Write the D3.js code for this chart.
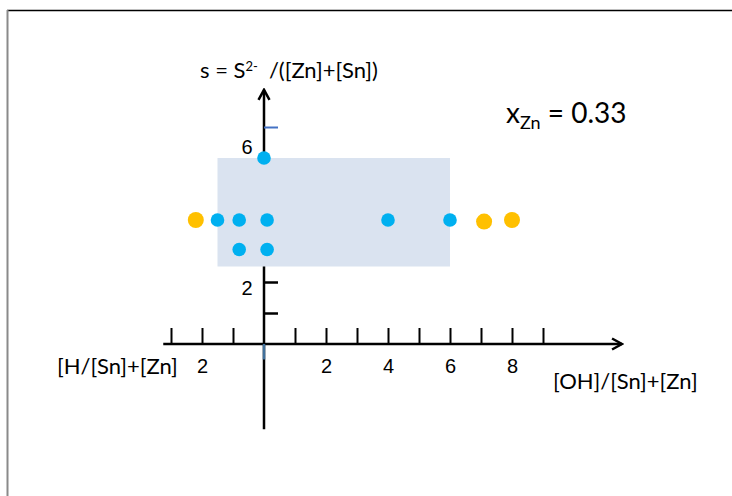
<!DOCTYPE html>
<html>
<head>
<meta charset="utf-8">
<script src="https://cdn.jsdelivr.net/npm/d3@7"></script>
<style>
    body { margin: 0; background: #fff; }
    svg { display: block; font-family: Lato, "Open Sans", sans-serif; }
</style>
</head>
<body>
<svg id="chart" width="732" height="496"></svg>
<script>
// data
var blueX = [0, -1.5, -0.8, 0.1, -0.8, 0.1, 4, 6];
var blueY = [6, 4, 4, 4, 3.05, 3.05, 4, 4];
var orangeX = [-2.2, 7.1, 8];
var orangeY = [4, 3.95, 4];

var regionX = [-1.5, 6];
var regionY = [2.5, 6];

var xTicks = [-3, -2, -1, 1, 2, 3, 4, 5, 6, 7, 8, 9];
var xTickLabels = [-2, 2, 4, 6, 8];
var yTicks = [1, 2, 3, 4, 5, 6];
var yTickLabels = [2, 6];
var yBlueTick = [7];

var svg = d3.select("#chart");

// frame of the slide
svg.append("line")
    .attr("x1", 7).attr("x2", 732)
    .attr("y1", 10.5).attr("y2", 10.5)
    .style("stroke", "#000").style("stroke-width", 1.5);
svg.append("line")
    .attr("x1", 7.5).attr("x2", 7.5)
    .attr("y1", 10).attr("y2", 496)
    .style("stroke", "#8a8a8a").style("stroke-width", 2);

// scales, 31px per unit, origin at (264, 344)
var xScale = d3.scaleLinear().domain([-3, 9]).range([171, 543]);
var yScale = d3.scaleLinear().domain([0, 7]).range([344, 127]);

// arrow head
svg.append("defs").append("marker")
    .attr("id", "arrow")
    .attr("markerUnits", "userSpaceOnUse")
    .attr("viewBox", "0 0 14 14")
    .attr("refX", 12).attr("refY", 7)
    .attr("markerWidth", 14).attr("markerHeight", 14)
    .attr("orient", "auto")
    .append("path")
    .attr("d", "M2,1.5 L12,7 L2,12.5")
    .style("fill", "none")
    .style("stroke", "#000")
    .style("stroke-width", 2.5);

// y axis line (drawn under the shaded region)
svg.append("line")
    .attr("x1", xScale(0)).attr("x2", xScale(0))
    .attr("y1", yScale(-2.75)).attr("y2", yScale(8.2))
    .style("stroke", "#000").style("stroke-width", 2.5)
    .attr("marker-end", "url(#arrow)");

var yAxisG = svg.append("g")
    .attr("class", "yAxisG")
    .attr("transform", "translate(" + xScale(0) + "," + 0 + ")")
    .call(d3.axisRight(yScale)
        .tickValues(yTicks)
        .tickSize(14)
        .tickFormat(function (d) {
            return yTickLabels.indexOf(d) >= 0 ? d : "";
        }));
yAxisG.select(".domain").remove();
yAxisG.selectAll("line")
    .style("stroke", "#000").style("stroke-width", 2.5)
    .style("display", function (d) { return d === 6 ? "none" : null; });
yAxisG.selectAll("text")
    .attr("x", -17)
    .attr("dy", function (d) { return d === 2 ? "0.62em" : "-0.25em"; })
    .style("text-anchor", "middle")
    .style("font-size", "20px")
    .style("fill", "#000");

// the lone blue tick
var yBlueG = svg.append("g")
    .attr("transform", "translate(" + xScale(0) + "," + 0 + ")")
    .call(d3.axisRight(yScale).tickValues(yBlueTick).tickSize(14).tickFormat(""));
yBlueG.select(".domain").remove();
yBlueG.selectAll("line").style("stroke", "#4472c4").style("stroke-width", 2);

// shaded region
svg.append("rect")
    .attr("x", xScale(regionX[0]))
    .attr("y", yScale(regionY[1]))
    .attr("width", xScale(regionX[1]) - xScale(regionX[0]))
    .attr("height", yScale(regionY[0]) - yScale(regionY[1]))
    .style("fill", "#dae3f0");

// x axis
svg.append("line")
    .attr("x1", xScale(-3.25)).attr("x2", xScale(11.55))
    .attr("y1", yScale(0)).attr("y2", yScale(0))
    .style("stroke", "#000").style("stroke-width", 2.5)
    .attr("marker-end", "url(#arrow)");

var xAxisG = svg.append("g")
    .attr("class", "xAxisG")
    .attr("transform", "translate(" + 0 + "," + yScale(0) + ")")
    .call(d3.axisTop(xScale)
        .tickValues(xTicks)
        .tickSize(16)
        .tickFormat(function (d) {
            return xTickLabels.indexOf(d) >= 0 ? Math.abs(d) : "";
        }));
xAxisG.select(".domain").remove();
xAxisG.selectAll("line").style("stroke", "#000").style("stroke-width", 2);
xAxisG.selectAll("text")
    .attr("y", 29)
    .attr("dy", 0)
    .style("font-size", "20px")
    .style("fill", "#000");

// small blue stub below the origin
svg.append("line")
    .attr("x1", xScale(0)).attr("x2", xScale(0))
    .attr("y1", yScale(0)).attr("y2", yScale(-0.5))
    .style("stroke", "#41719c").style("stroke-width", 2.5);

// points
svg.append("g").selectAll("circle")
    .data(orangeX)
    .enter()
    .append("circle")
    .attr("cx", function (d) { return xScale(d); })
    .attr("cy", function (d, i) { return yScale(orangeY[i]); })
    .attr("r", 8)
    .style("fill", "#ffc000");

svg.append("g").selectAll("circle")
    .data(blueX)
    .enter()
    .append("circle")
    .attr("cx", function (d) { return xScale(d); })
    .attr("cy", function (d, i) { return yScale(blueY[i]); })
    .attr("r", 6.8)
    .style("fill", "#00b0f0");

// texts
var yTitle = svg.append("text")
    .attr("x", 200).attr("y", 78)
    .style("font-size", "22px");
yTitle.append("tspan").text("s = S");
yTitle.append("tspan").attr("dy", -7).style("font-size", "13px").text("2-");
yTitle.append("tspan").attr("dy", 7).attr("dx", 11).text("/([Zn]+[Sn])");

svg.append("text")
    .attr("x", 57).attr("y", 374)
    .style("font-size", "22px")
    .text("[H/[Sn]+[Zn]");

svg.append("text")
    .attr("x", 553).attr("y", 389)
    .style("font-size", "22px")
    .text("[OH]/[Sn]+[Zn]");

var xZn = svg.append("text")
    .attr("x", 506).attr("y", 123)
    .style("font-size", "28px");
xZn.append("tspan").text("x");
xZn.append("tspan").attr("dy", 6).style("font-size", "18px").text("Zn");
xZn.append("tspan").attr("dy", -6).text(" = 0.33");
</script>
</body>
</html>
